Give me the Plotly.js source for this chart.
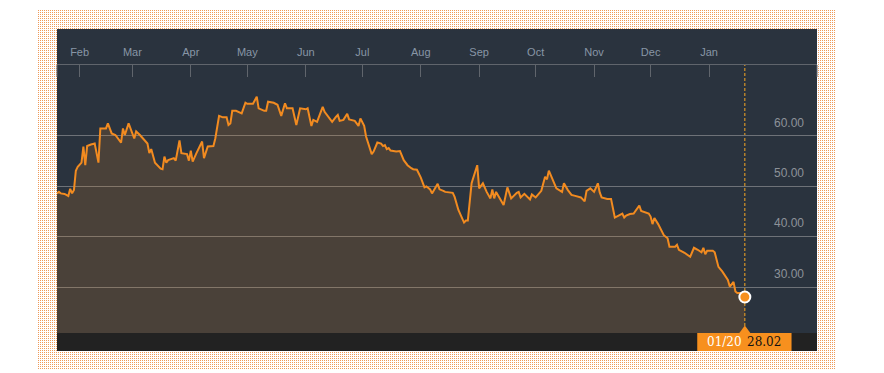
<!DOCTYPE html>
<html>
<head>
<meta charset="utf-8">
<script src="https://cdn.plot.ly/plotly-3.0.1.min.js"></script>
<style>
  html, body { margin:0; padding:0; background:#ffffff; width:884px; height:373px; overflow:hidden; }
  #frame { position:absolute; left:37px; top:9px; width:799px; height:360px;
    background-color:#ffffff;
    background-image: url("data:image/svg+xml,%3Csvg xmlns='http://www.w3.org/2000/svg' width='2' height='2' shape-rendering='crispEdges'%3E%3Crect x='1' y='1' width='1' height='1' fill='%23ef9a58'/%3E%3C/svg%3E");
    background-size: 2px 2px; background-repeat: repeat; image-rendering: pixelated; }
  #panel { position:absolute; left:57px; top:29px; width:760px; height:322px; background:#2a333e; }
  #chart { position:absolute; left:0; top:0; width:884px; height:373px; }
</style>
</head>
<body>
<div id="frame"></div>
<div id="panel"></div>
<div id="chart"></div>
<script>
const dates = [
"2015-01-20","2015-01-21","2015-01-22","2015-01-24","2015-01-26","2015-01-27","2015-01-28","2015-01-29","2015-01-30","2015-01-31",
"2015-02-02","2015-02-03","2015-02-04","2015-02-05","2015-02-07","2015-02-09","2015-02-11","2015-02-12","2015-02-15","2015-02-16",
"2015-02-18","2015-02-20","2015-02-23","2015-02-24","2015-02-25","2015-02-27","2015-03-02","2015-03-03","2015-03-05","2015-03-09",
"2015-03-10","2015-03-11","2015-03-13","2015-03-16","2015-03-17","2015-03-18","2015-03-19","2015-03-20","2015-03-23","2015-03-24",
"2015-03-26","2015-03-27","2015-03-30","2015-03-31","2015-04-01","2015-04-02","2015-04-04","2015-04-07","2015-04-08","2015-04-10",
"2015-04-13","2015-04-14","2015-04-16","2015-04-18","2015-04-20","2015-04-21","2015-04-22","2015-04-23","2015-04-25","2015-04-28",
"2015-04-30","2015-05-01","2015-05-04","2015-05-06","2015-05-07","2015-05-10","2015-05-11","2015-05-12","2015-05-15","2015-05-17",
"2015-05-19","2015-05-21","2015-05-22","2015-05-25","2015-05-27","2015-05-29","2015-06-01","2015-06-02","2015-06-04","2015-06-05",
"2015-06-07","2015-06-10","2015-06-11","2015-06-14","2015-06-15","2015-06-17","2015-06-18","2015-06-19","2015-06-21","2015-06-23",
"2015-06-24","2015-06-27","2015-06-28","2015-06-29","2015-06-30","2015-07-02","2015-07-03","2015-07-06","2015-07-07","2015-07-09",
"2015-07-11","2015-07-12","2015-07-13","2015-07-14","2015-07-15","2015-07-16","2015-07-19","2015-07-21","2015-07-23","2015-07-25",
"2015-07-27","2015-07-28","2015-07-30","2015-08-01","2015-08-03","2015-08-04","2015-08-06","2015-08-07","2015-08-10","2015-08-11",
"2015-08-13","2015-08-14","2015-08-18","2015-08-19","2015-08-21","2015-08-24","2015-08-25","2015-08-26","2015-08-28","2015-08-31",
"2015-09-01","2015-09-03","2015-09-05","2015-09-07","2015-09-08","2015-09-09","2015-09-10","2015-09-14","2015-09-16","2015-09-18",
"2015-09-21","2015-09-22","2015-09-23","2015-09-25","2015-09-28","2015-09-29","2015-10-01","2015-10-04","2015-10-06","2015-10-07",
"2015-10-08","2015-10-09","2015-10-12","2015-10-15","2015-10-16","2015-10-18","2015-10-20","2015-10-22","2015-10-25","2015-10-27",
"2015-10-28","2015-10-30","2015-11-01","2015-11-03","2015-11-04","2015-11-05","2015-11-08","2015-11-10","2015-11-12","2015-11-14",
"2015-11-16","2015-11-17","2015-11-18","2015-11-20","2015-11-22","2015-11-25","2015-11-26","2015-11-30","2015-12-01","2015-12-02",
"2015-12-03","2015-12-05","2015-12-08","2015-12-10","2015-12-11","2015-12-14","2015-12-15","2015-12-16","2015-12-19","2015-12-22",
"2015-12-24","2015-12-26","2015-12-28","2015-12-29","2015-12-30","2015-12-31","2016-01-03","2016-01-04","2016-01-06","2016-01-08",
"2016-01-11","2016-01-12","2016-01-14","2016-01-15","2016-01-16","2016-01-18","2016-01-20"
];
const prices = [
48.6,48.9,48.6,48.5,48.1,49.5,48.6,49.3,53.1,53.9,
54.7,57.9,54.2,58.0,58.3,58.5,54.7,61.5,61.5,62.5,
60.5,60.2,58.7,61.5,60.2,62.5,59.5,60.9,60.2,58.5,
56.6,57.4,54.7,53.5,53.4,55.9,54.7,55.2,55.6,55.1,
59.1,56.6,56.4,55.1,57.1,54.9,56.6,58.9,55.6,57.9,
58.0,59.5,64.0,63.7,63.7,62.2,62.5,65.0,65.0,64.5,
66.6,66.4,66.4,67.8,65.5,65.0,65.0,66.8,66.6,66.2,
64.0,66.5,65.5,65.5,62.2,65.5,65.3,65.5,62.0,63.2,
62.8,65.8,64.8,63.2,62.8,63.8,64.2,63.0,63.2,64.4,
63.3,63.0,62.6,62.0,63.5,62.0,59.9,56.4,56.9,58.7,
58.5,58.0,58.2,57.4,57.6,57.1,56.9,57.0,55.2,54.2,
53.6,53.4,53.3,51.8,49.8,50.0,49.4,48.6,50.5,49.4,
49.1,48.9,48.7,47.9,45.3,42.8,43.2,43.2,50.6,54.2,
49.6,50.6,48.9,47.6,49.4,47.6,48.9,46.3,49.8,47.6,
48.7,48.9,47.8,48.5,47.4,48.4,47.8,49.1,51.9,51.4,
53.1,52.3,49.6,48.9,50.6,49.3,48.3,48.1,47.8,47.0,
49.1,49.6,48.9,50.6,48.8,47.8,47.5,47.5,43.8,44.2,
44.6,43.8,44.2,44.5,44.6,46.2,45.1,44.6,44.0,42.5,
43.7,42.5,40.3,39.7,38.0,38.0,38.4,37.4,36.8,36.0,
37.8,37.4,36.9,37.8,36.5,37.2,37.2,36.9,34.0,33.1,
31.4,30.1,31.0,29.1,28.8,28.8,28.02
];
const monthTicks = ["2015-02-01","2015-03-01","2015-04-01","2015-05-01","2015-06-01","2015-07-01",
  "2015-08-01","2015-09-01","2015-10-01","2015-11-01","2015-12-01","2016-01-01"];
const monthLabels = ["Feb","Mar","Apr","May","Jun","Jul","Aug","Sep","Oct","Nov","Dec","Jan"];
const yTickVals = [30, 40, 50, 60];
const xRange = ["2015-01-20", "2016-02-27 07:00"];
const yRange = [20.87, 74.10];

const lastDate = dates[dates.length - 1];
const lastPrice = prices[prices.length - 1];
const lastLabel = lastDate.slice(5, 7) + "/" + lastDate.slice(8, 10);

const ORANGE = "#f28b20";
const AXIS = "#60656c";

const traces = [
  {
    x: dates, y: prices, type: "scatter", mode: "lines",
    line: { color: ORANGE, width: 2 },
    fill: "tozeroy", fillcolor: "rgba(242,140,30,0.16)",
    hoverinfo: "skip", showlegend: false
  },
  {
    x: [lastDate], y: [lastPrice], type: "scatter", mode: "markers",
    marker: { size: 11, color: "#f7901e", line: { color: "#ffffff", width: 2 } },
    hoverinfo: "skip", showlegend: false, cliponaxis: false
  }
];

const plotH = 373 - 65 - 40;
const layout = {
  width: 884, height: 373,
  margin: { l: 57, r: 67, t: 65, b: 40, pad: 0 },
  paper_bgcolor: "rgba(0,0,0,0)",
  plot_bgcolor: "rgba(0,0,0,0)",
  showlegend: false,
  font: { family: "Arial, Liberation Sans, sans-serif" },
  xaxis: {
    type: "date", range: xRange, side: "top",
    tickmode: "array", tickvals: monthTicks, ticktext: monthLabels,
    ticks: "inside", ticklen: 12, tickwidth: 1, tickcolor: AXIS,
    showline: true, linecolor: AXIS, linewidth: 1,
    showgrid: false, zeroline: false, fixedrange: true,
    tickfont: { size: 11, color: "#8896a6" }, ticklabelstandoff: 4
  },
  yaxis: {
    range: yRange, side: "right", tickvals: yTickVals,
    tickformat: ".2f", ticks: "", ticklabelposition: "inside top",
    showgrid: true, gridcolor: "#6e7278", gridwidth: 1,
    zeroline: false, showline: false, fixedrange: true,
    tickfont: { size: 12, color: "#8d9299" }, ticklabelstandoff: 10, ticklabelshift: -5
  },
  shapes: [
    { type: "rect", xref: "paper", yref: "paper", x0: 0, x1: 1, y0: -18 / plotH, y1: 0,
      fillcolor: "#222222", line: { width: 0 }, layer: "above" },
    { type: "line", xref: "x", yref: "paper", x0: lastDate, x1: lastDate, y0: 7 / plotH, y1: 1,
      line: { color: "#f7a823", width: 1, dash: "3px,2px" }, layer: "below" },
    { type: "rect", xref: "x", yref: "paper", xsizemode: "pixel", xanchor: lastDate,
      x0: -47.6, x1: 46.7, y0: -18 / plotH, y1: 0,
      fillcolor: "#f7901e", line: { width: 0 }, layer: "above" },
    { type: "path", xref: "x", yref: "paper", xsizemode: "pixel", xanchor: lastDate,
      ysizemode: "pixel", yanchor: 0,
      path: "M -5.5 0 L 0 7.5 L 5.5 0 Z",
      fillcolor: "#f7901e", line: { width: 0 }, layer: "above" },
    { type: "line", xref: "paper", yref: "paper", x0: 0, x1: 0, y0: 1, y1: 1 - 12 / plotH,
      line: { color: AXIS, width: 1 } },
    { type: "line", xref: "paper", yref: "paper", x0: 1, x1: 1, y0: 1, y1: 1 - 12 / plotH,
      line: { color: AXIS, width: 1 } }
  ],
  annotations: [
    { xref: "x", yref: "paper", x: lastDate, y: -9 / plotH, xshift: -20, yanchor: "middle",
      text: lastLabel, showarrow: false,
      font: { family: "DejaVu Serif, Liberation Serif, serif", size: 12, color: "#ffffff" } },
    { xref: "x", yref: "paper", x: lastDate, y: -9 / plotH, xshift: 19, yanchor: "middle",
      text: lastPrice.toFixed(2), showarrow: false,
      font: { family: "DejaVu Serif, Liberation Serif, serif", size: 12, color: "#111111" } }
  ]
};

Plotly.newPlot("chart", traces, layout, { displayModeBar: false, staticPlot: true });
</script>
</body>
</html>
